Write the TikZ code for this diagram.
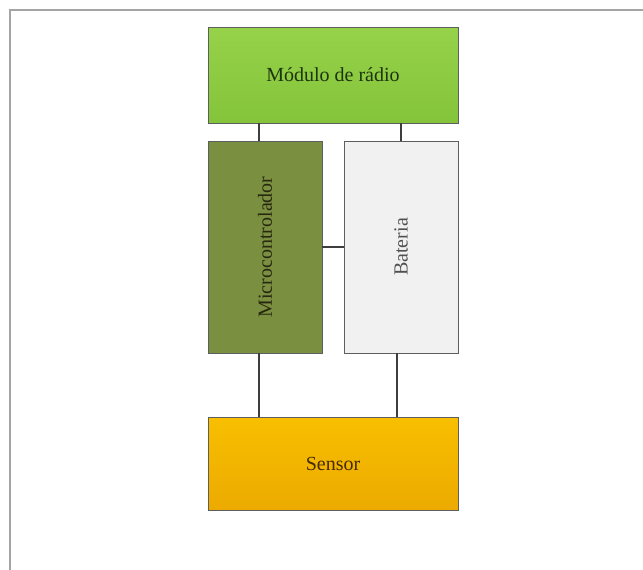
\documentclass[tikz,border=0pt]{standalone}
\usepackage{fontspec}
\setmainfont{Liberation Serif}
\definecolor{radiotop}{HTML}{96D24A}
\definecolor{radiobot}{HTML}{84C43A}
\definecolor{microfill}{HTML}{7B8F40}
\definecolor{batfill}{HTML}{F1F1F1}
\definecolor{sensortop}{HTML}{F8BF00}
\definecolor{sensorbot}{HTML}{ECAA00}
\definecolor{edgegray}{HTML}{5E5E5E}
\definecolor{wiregray}{HTML}{3E3E3E}
\definecolor{framegray}{HTML}{A4A4A4}
\tikzset{
  block/.style={draw=edgegray, line width=0.9pt, rectangle, inner sep=0pt,
    font=\fontsize{20}{24}\selectfont},
  wire/.style={draw=wiregray, line width=2pt},
}
\begin{document}
\begin{tikzpicture}[x=1pt, y=-1pt]
\useasboundingbox (0,0) rectangle (643,570);
\fill[white] (0,0) rectangle (643,570);
% frame along the top and left edges
\draw[framegray, line width=2pt] (10,570) -- (10,10) -- (643,10);

\node[block, top color=radiotop, bottom color=radiobot,
  minimum width=250pt, minimum height=96pt, text={rgb,255:red,30;green,52;blue,14}]
  (radio) at (333,75) {Módulo de rádio};
\node[block, fill=microfill, minimum width=114pt, minimum height=212pt,
  text={rgb,255:red,38;green,40;blue,16}]
  (micro) at (265,247) {\rotatebox{90}{Microcontrolador}};
\node[block, fill=batfill, minimum width=114pt, minimum height=212pt,
  text={rgb,255:red,80;green,80;blue,80}]
  (bat) at (401,247) {\rotatebox{90}{Bateria}};
\node[block, top color=sensortop, bottom color=sensorbot,
  minimum width=250pt, minimum height=93pt, text={rgb,255:red,70;green,45;blue,0}]
  (sensor) at (333,463.5) {Sensor};

% connections
\draw[wire] ([xshift=-6pt]micro.north) -- ([xshift=-6pt]micro.north |- radio.south);
\draw[wire] (bat.north) -- (bat.north |- radio.south);
\draw[wire] (micro.east) -- (bat.west);
\draw[wire] ([xshift=-6pt]micro.south) -- ([xshift=-6pt]micro.south |- sensor.north);
\draw[wire] ([xshift=-4pt]bat.south) -- ([xshift=-4pt]bat.south |- sensor.north);
\end{tikzpicture}
\end{document}
